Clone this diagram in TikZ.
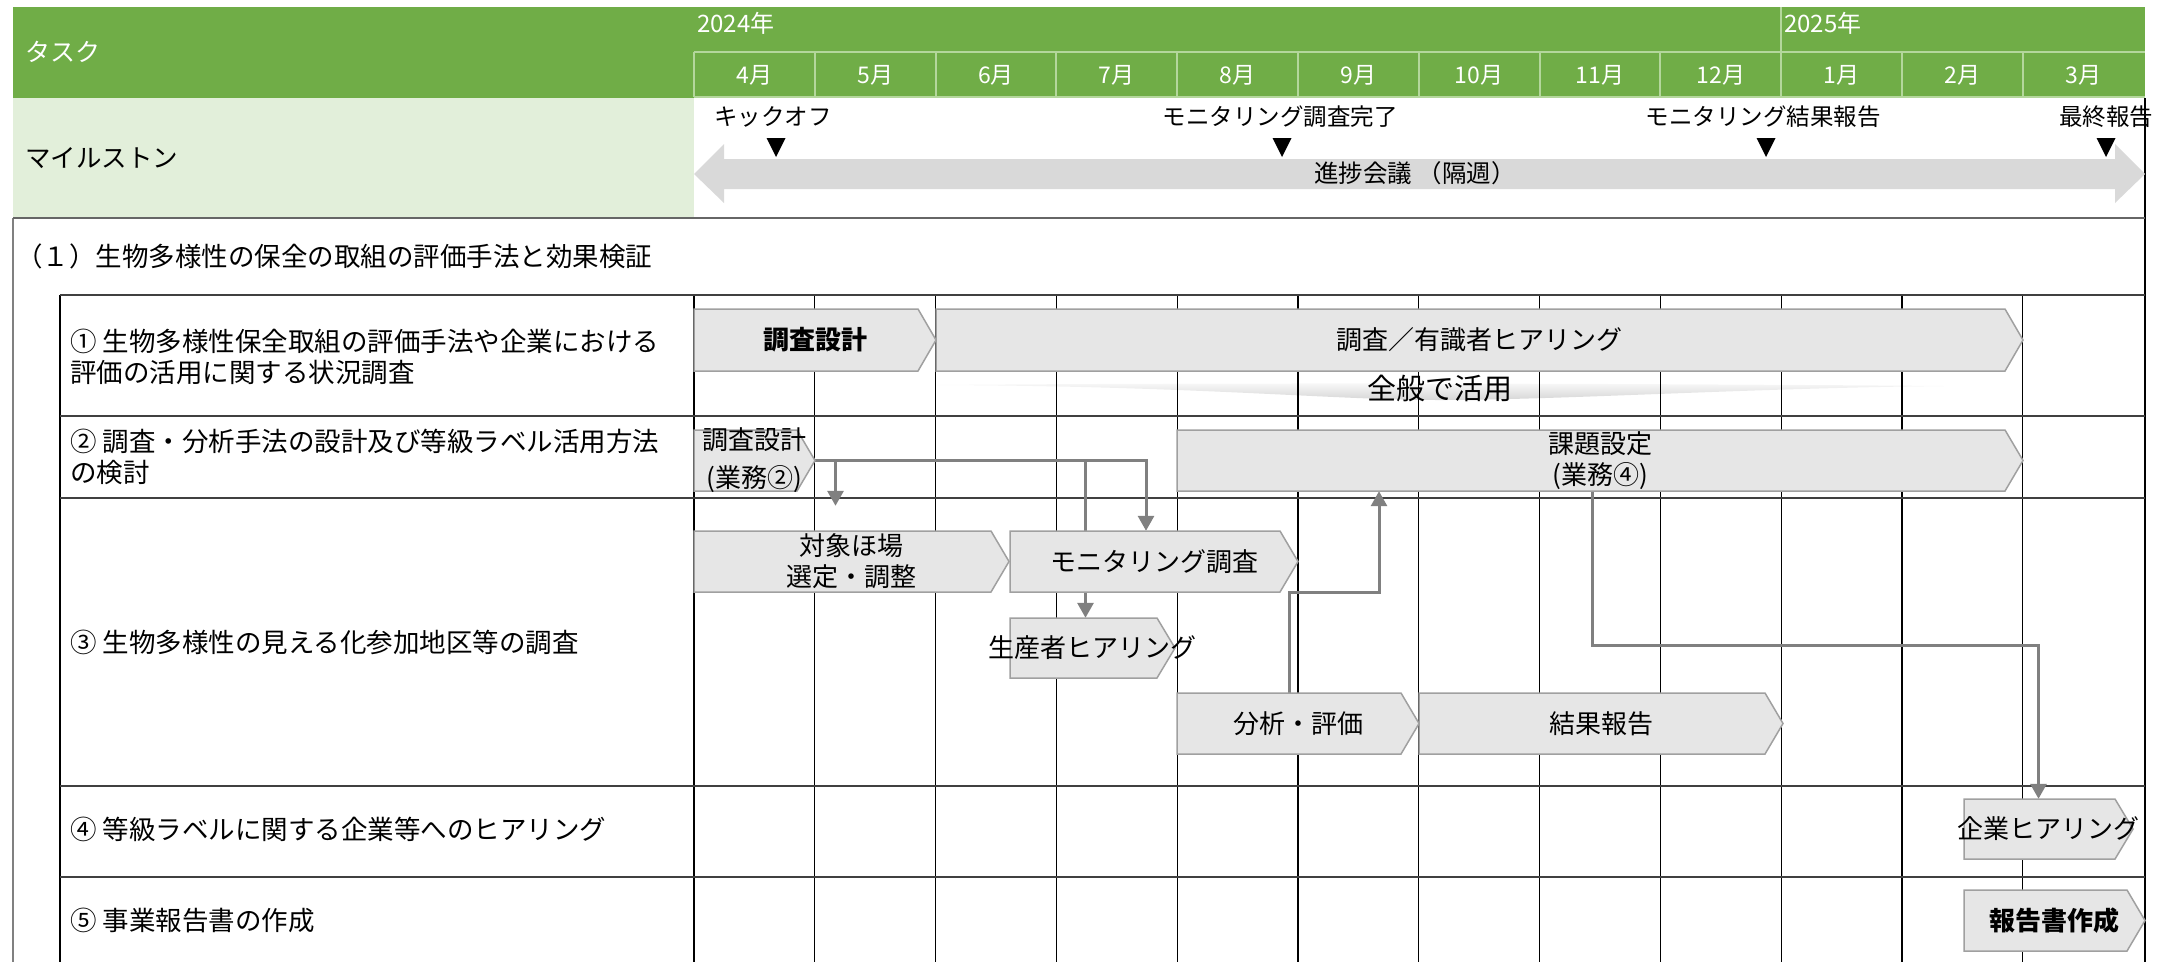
\documentclass[tikz,border=0pt]{standalone}
\usepackage{fontspec}
\setmainfont{Noto Sans CJK JP}
\usetikzlibrary{arrows.meta,calc}
\definecolor{hdrgreen}{HTML}{70AD47}
\definecolor{lightgreen}{HTML}{E2EFDA}
\definecolor{hdrline}{HTML}{B4D79C}
\definecolor{barfill}{HTML}{E6E6E6}
\definecolor{barline}{HTML}{A0A0A0}
\definecolor{connc}{HTML}{808080}
\definecolor{rowline}{HTML}{404040}
\definecolor{msarrow}{HTML}{D9D9D9}
\pgfdeclarelayer{bg}
\pgfdeclarelayer{mid}
\pgfsetlayers{bg,mid,main}
\tikzset{
  hdr/.style={text=white, inner sep=0, font=\fontsize{24}{28}\selectfont},
  lbl/.style={anchor=west, align=left, inner sep=0, font=\fontsize{26.5}{31}\selectfont},
  mstext/.style={inner sep=0, font=\fontsize{23.5}{28}\selectfont},
  barshape/.style={fill=barfill, draw=barline, line width=1.5pt},
  bartext/.style={inner sep=0, align=center, font=\fontsize{26}{31}\selectfont},
  conn/.style={draw=connc, line width=3pt, -{Triangle[width=16pt,length=15pt]}},
  gridv/.style={line width=1.2pt, black},
  rowl/.style={line width=1.8pt, rowline},
  hline/.style={line width=2pt, hdrline},
}
\newcommand\ganttbar[7][]{%
  \path[barshape] (#3,#5) -- ({#4-18},#5) -- (#4,{(#5+#6)/2}) -- ({#4-18},#6) -- (#3,#6) -- cycle;
  \node[bartext,minimum width={#4-#3},minimum height={#6-#5},#1] (#2) at ({(#3+#4)/2},{(#5+#6)/2}) {#7};
}
\newcommand\msmark[1]{\fill[black] ({#1-9.5},138) -- ({#1+9.5},138) -- (#1,157) -- cycle;}
\begin{document}
\begin{tikzpicture}[x=1pt,y=-1pt]
\useasboundingbox (0,0) rectangle (2173,962);
\begin{pgfonlayer}{bg}
  % header
  \fill[hdrgreen] (13,7) rectangle (2145,98);
  \fill[lightgreen] (13,98) rectangle (694,218);
  \draw[hline] (694,52) -- (2145,52);
  \draw[hline] (694,97) -- (2145,97);
  \foreach \i in {0,...,11} \draw[hline] ({694+120.8*\i},52) -- ({694+120.8*\i},97);
  \draw[hline] (1781,7) -- (1781,52);
  % wedge
  \shade[top color=gray!4, bottom color=gray!32]
    (936,385) .. controls (1200,386) and (1330,400) .. (1440,400)
    .. controls (1560,400) and (1750,388) .. (1944,386)
    .. controls (1700,384) and (1300,382) .. (936,385) -- cycle;
  % grid
  \foreach \i in {0,...,11} \draw[gridv] ({694+120.8*\i},295) -- ({694+120.8*\i},962);
  \draw[line width=1.2pt, gray] (13,218) -- (13,962);
  \draw[line width=1.2pt, black] (60,295) -- (60,962);
  \draw[line width=1.2pt, black] (2145,98) -- (2145,962);
  \draw[line width=2pt, gray!80!black] (13,218) -- (2145,218);
  \foreach \yy in {295,416,498,786,877} \draw[rowl] (60,\yy) -- (2145,\yy);
\end{pgfonlayer}

% header texts
\node[hdr, anchor=west, font=\fontsize{25}{30}\selectfont] (task) at (25,52) {タスク};
\node[hdr, anchor=west] (y2024) at (697,23) {2024年};
\node[hdr, anchor=west] (y2025) at (1784,23) {2025年};
\foreach [count=\i from 0] \m in {4月,5月,6月,7月,8月,9月,10月,11月,12月,1月,2月,3月}
  \node[hdr, font=\fontsize{23}{28}\selectfont] (mon\i) at ({694+120.8*\i+60.4},75) {\m};

% milestone row
\node[lbl, font=\fontsize{25.5}{30}\selectfont] (mslbl) at (25,158) {マイルストン};
\fill[msarrow] (694,174) -- (724,144) -- (724,159) -- (2115,159) -- (2115,144) -- (2145,174)
  -- (2115,203) -- (2115,189) -- (724,189) -- (724,203) -- cycle;
\node[mstext, font=\fontsize{24.5}{29}\selectfont] (prog) at (1415,173) {進捗会議 （隔週）};
\node[mstext] (ms1) at (773,117) {キックオフ};
\node[mstext] (ms2) at (1280,117) {モニタリング調査完了};
\node[mstext] (ms3) at (1763,117) {モニタリング結果報告};
\node[mstext] (ms4) at (2106,117) {最終報告};
\msmark{776}
\msmark{1282}
\msmark{1766}
\msmark{2106}

% labels
\node[lbl] (sec) at (16,256) {（１）生物多様性の保全の取組の評価手法と効果検証};
\node[lbl] (r1) at (70,357) {① 生物多様性保全取組の評価手法や企業における\\評価の活用に関する状況調査};
\node[lbl] (r2) at (70,457) {② 調査・分析手法の設計及び等級ラベル活用方法\\の検討};
\node[lbl] (r3) at (70,642) {③ 生物多様性の見える化参加地区等の調査};
\node[lbl] (r4) at (70,829) {④ 等級ラベルに関する企業等へのヒアリング};
\node[lbl] (r5) at (70,920) {⑤ 事業報告書の作成};

% bars
\ganttbar[font=\bfseries\fontsize{26}{31}\selectfont]{b1a}{694}{936}{309}{371}{調査設計}
\ganttbar{b1b}{936}{2023}{309}{371}{調査／有識者ヒアリング}
\node[inner sep=0, font=\fontsize{29}{34}\selectfont] (use) at (1440,389) {全般で活用};
\ganttbar[font=\fontsize{26}{38}\selectfont]{b2a}{694}{815}{430}{491}{調査設計\\(業務②)}
\ganttbar{b2b}{1177}{2023}{430}{491}{課題設定\\(業務④)}
\ganttbar{b3a}{694}{1009}{531}{592}{対象ほ場\\選定・調整}
\ganttbar{b3b}{1010}{1298}{531}{592}{モニタリング調査}
\ganttbar{b3c}{1010}{1175}{618}{678}{生産者ヒアリング}
\ganttbar{b3d}{1177}{1419}{693}{754}{分析・評価}
\ganttbar{b3e}{1419}{1783}{693}{754}{結果報告}
\ganttbar{b4}{1964}{2133}{799}{859}{企業ヒアリング}
\ganttbar[font=\bfseries\fontsize{26}{31}\selectfont]{b5}{1964}{2145}{890}{951}{報告書作成}

% connectors
\coordinate (c2) at (1379,592);
\coordinate (c3) at (2038.5,645);
\begin{pgfonlayer}{mid}
  \draw[conn] (b2a.east) -| ([xshift=-8pt]b3b.north);
  \draw[conn] ([xshift=-16pt]b3a.north |- b2a.east) -- ([xshift=-16pt,yshift=25pt]b3a.north);
  \draw[conn] ([xshift=-7pt]b3c.north |- b2a.east) -- ([xshift=-7pt]b3c.north);
  \draw[conn] ([xshift=-9pt]b3d.north) |- (c2) -- (c2 |- b2b.south);
  \draw[conn] ([xshift=-8pt]b2b.south) |- (c3) -- ([xshift=-10pt]b4.north);
\end{pgfonlayer}
\end{tikzpicture}
\end{document}
